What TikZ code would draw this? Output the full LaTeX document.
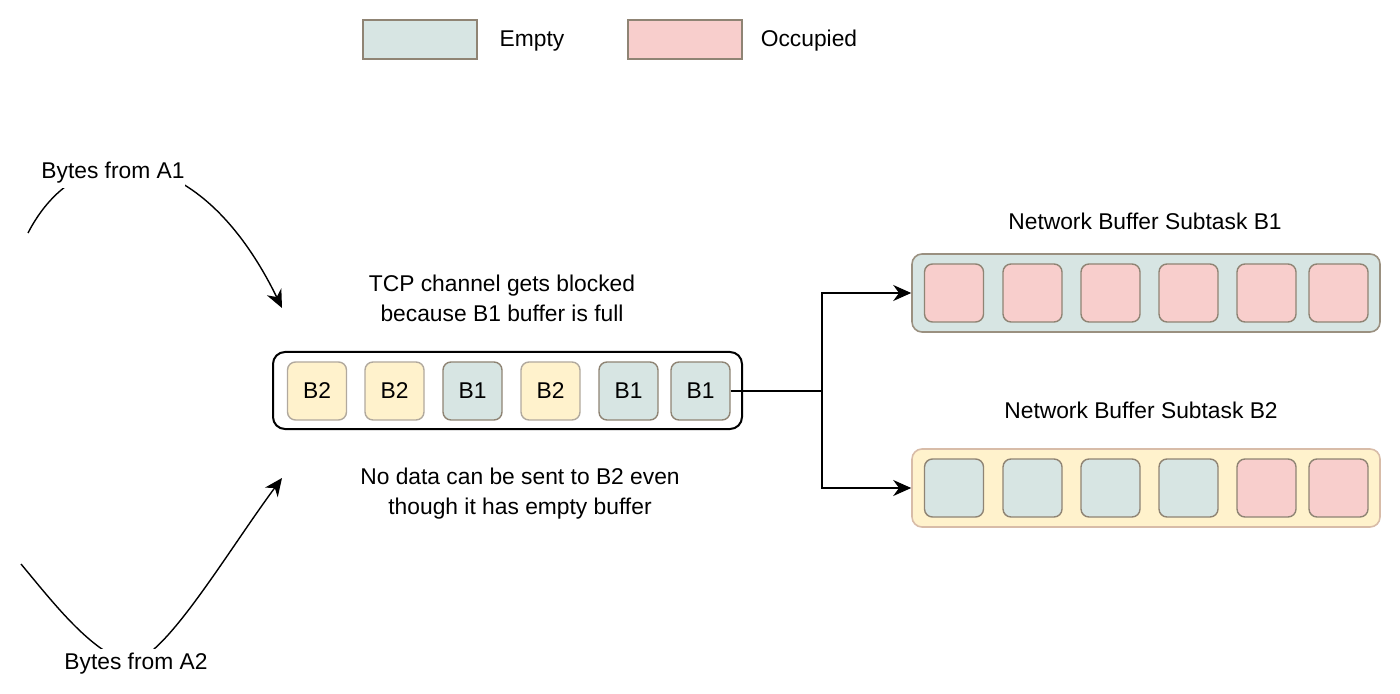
\documentclass[tikz,border=0pt]{standalone}
\usepackage{fontspec}
\setmainfont{Liberation Sans}
\usetikzlibrary{arrows.meta}
\definecolor{emptyc}{HTML}{D7E5E3}
\definecolor{occc}{HTML}{F8CECC}
\definecolor{yelc}{HTML}{FFF2CC}
\definecolor{cellb}{HTML}{8F8474}
\definecolor{bufbA}{HTML}{9A9080}
\definecolor{bufbB}{HTML}{D8BCA8}
\tikzset{
  every node/.style={font=\fontsize{11.4}{15}\selectfont},
  cellbox/.style={draw=cellb, line width=0.7pt, rounded corners=4pt, minimum width=29.5pt, minimum height=29pt, inner sep=0pt},
  emptycell/.style={cellbox, fill=emptyc},
  occcell/.style={cellbox, fill=occc},
  b2cell/.style={cellbox, fill=yelc, draw=cellb!70},
  legendbox/.style={draw=cellb, line width=0.7pt, minimum width=57pt, minimum height=19.5pt, inner sep=0pt},
  bufbox/.style={line width=0.8pt, rounded corners=5pt, minimum width=234pt, minimum height=39pt, inner sep=0pt},
  tcpbox/.style={draw=black, line width=1pt, rounded corners=6pt, minimum width=234.5pt, minimum height=38.5pt, inner sep=0pt},
  conn/.style={draw=black, line width=1pt, -{Stealth[length=9pt,width=8pt]}},
  curvearrow/.style={draw=black, line width=0.7pt},
  lbl/.style={fill=white, inner xsep=0pt, inner ysep=2pt},
  textblk/.style={align=center, inner sep=0pt}
}
\begin{document}
\begin{tikzpicture}[x=0.5pt,y=-0.5pt]
\path[use as bounding box] (0,0) rectangle (1400,694);

% legend
\node[legendbox, fill=emptyc] (legE) at (420,39.5) {};
\node (legEt) at (532,41) {Empty};
\node[legendbox, fill=occc] (legO) at (685,39.5) {};
\node (legOt) at (809,41) {Occupied};

% TCP channel
\node[tcpbox] (tcp) at (507.5,390.5) {};
\node[b2cell] (t1) at (317,391) {B2};
\node[b2cell] (t2) at (394.5,391) {B2};
\node[emptycell] (t3) at (472.5,391) {B1};
\node[b2cell] (t4) at (550.5,391) {B2};
\node[emptycell] (t5) at (628.5,391) {B1};
\node[emptycell] (t6) at (700.5,391) {B1};

\node[textblk] (toptext) at (502,298) {TCP channel gets blocked\\because B1 buffer is full};
\node[textblk] (bottext) at (520,494) {No data can be sent to B2 even\\though it has empty buffer};

% Buffer B1
\node (titleA) at (1145,221) {Network Buffer Subtask B1};
\node[bufbox, draw=bufbA, fill=emptyc] (bufA) at (1146,293) {};
\node[occcell] (a1) at (954,293) {};
\node[occcell] (a2) at (1032.5,293) {};
\node[occcell] (a3) at (1110.5,293) {};
\node[occcell] (a4) at (1188.5,293) {};
\node[occcell] (a5) at (1266.5,293) {};
\node[occcell] (a6) at (1338.5,293) {};

% Buffer B2
\node (titleB) at (1141,410) {Network Buffer Subtask B2};
\node[bufbox, draw=bufbB, fill=yelc] (bufB) at (1146,488) {};
\node[emptycell] (b1) at (954,488) {};
\node[emptycell] (b2) at (1032.5,488) {};
\node[emptycell] (b3) at (1110.5,488) {};
\node[emptycell] (b4) at (1188.5,488) {};
\node[occcell] (b5) at (1266.5,488) {};
\node[occcell] (b6) at (1338.5,488) {};

% connectors
\coordinate (split) at (822,391);
\draw[line width=1pt] (t6.east) -- (split);
\draw[conn] (split) |- (bufA.west);
\draw[conn] (split) |- (bufB.west);

% incoming curves
\coordinate (s1) at (28,233);
\coordinate (e1) at (282,308);
\coordinate (s2) at (21,564);
\coordinate (m2) at (127,662);
\coordinate (e2) at (282,478);
\draw[curvearrow, -{Stealth[length=9pt,width=8pt]}] (s1) .. controls (80,132) and (200,140) .. (e1);
\draw[curvearrow] (s2) .. controls (55,605) and (90,650) .. (m2);
\draw[curvearrow, -{Stealth[length=9pt,width=8pt]}] (m2) .. controls (160,667) and (225,555) .. (e2);
\node[lbl] (la1) at (113,173) {Bytes from A1};
\node[lbl] (la2) at (136,664) {Bytes from A2};
\end{tikzpicture}
\end{document}
